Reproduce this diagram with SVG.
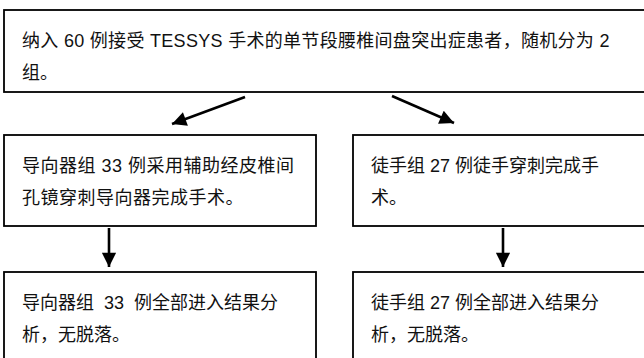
<svg xmlns="http://www.w3.org/2000/svg" width="644" height="358" viewBox="0 0 644 358">
<defs>
<marker id="ah" viewBox="0 0 10 10" refX="10" refY="5" markerWidth="6" markerHeight="5.5" markerUnits="strokeWidth" orient="auto">
<path d="M0,0 L10,5 L0,10 Z" fill="#000"/>
</marker>
</defs>
<style>
.box{fill:#fff;stroke:#000;stroke-width:1.8}
.t{font-family:"Liberation Sans","Noto Sans CJK SC",sans-serif;font-size:18px;fill:#111;white-space:pre}
.c{stroke:#000;stroke-width:2.6;fill:none;marker-end:url(#ah)}
</style>
<rect width="644" height="358" fill="#fff"/>
<g id="n1">
<rect class="box" x="4" y="10" width="650" height="82"/>
<text class="t" x="22" y="47" letter-spacing="0.3">纳入 60 例接受 TESSYS 手术的单节段腰椎间盘突出症患者，随机分为 2</text>
<text class="t" x="22" y="79">组。</text>
</g>
<g id="n2">
<rect class="box" x="4" y="135" width="312" height="91"/>
<text class="t" x="22" y="172" letter-spacing="0.5">导向器组 33 例采用辅助经皮椎间</text>
<text class="t" x="22" y="204" letter-spacing="0.5">孔镜穿刺导向器完成手术。</text>
</g>
<g id="n3">
<rect class="box" x="353" y="135" width="300" height="91"/>
<text class="t" x="371" y="172" xml:space="preserve">徒手组 27 例徒手穿刺完成手</text>
<text class="t" x="371" y="204">术。</text>
</g>
<g id="n4">
<rect class="box" x="4" y="272" width="312" height="100"/>
<text class="t" x="22" y="309" xml:space="preserve">导向器组  33  例全部进入结果分</text>
<text class="t" x="22" y="341">析，无脱落。</text>
</g>
<g id="n5">
<rect class="box" x="353" y="272" width="300" height="100"/>
<text class="t" x="371" y="309" xml:space="preserve">徒手组 27 例全部进入结果分</text>
<text class="t" x="371" y="341">析，无脱落。</text>
</g>
<g id="connectors">
<path class="c" d="M245,97 L172,124"/>
<path class="c" d="M392,96 L454,123"/>
<path class="c" d="M109,228 L109,267"/>
<path class="c" d="M503,228 L503,267"/>
</g>
</svg>
